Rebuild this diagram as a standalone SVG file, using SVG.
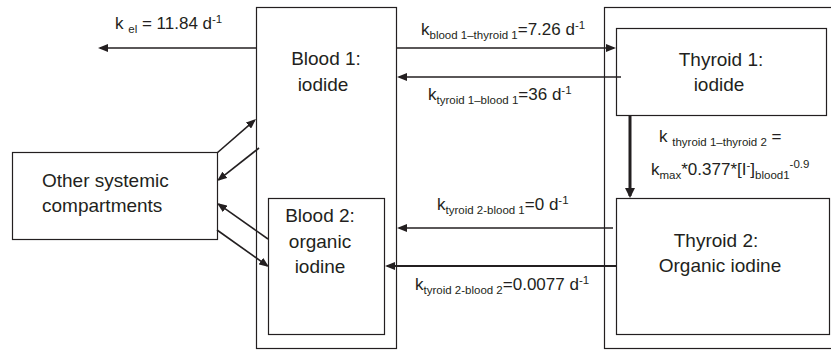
<svg xmlns="http://www.w3.org/2000/svg" width="831" height="350" viewBox="0 0 831 350">
<style>
.box{fill:#fff;stroke:#231f20;stroke-width:1.2}
.t{font-family:"Liberation Sans",Arial,sans-serif;font-size:19px;fill:#231f20}
.r{font-family:"Liberation Sans",Arial,sans-serif;font-size:17px;fill:#231f20}
.s{font-size:11.5px}
.a{stroke:#231f20;stroke-width:1.6;fill:none;marker-end:url(#ah)}
</style>
<defs>
<marker id="ah" viewBox="0 0 10 8" refX="8" refY="4" markerWidth="10" markerHeight="8" markerUnits="userSpaceOnUse" orient="auto"><path d="M0,0 L10,4 L0,8 z" fill="#231f20"/></marker>
<marker id="ahb" viewBox="0 0 10 10" refX="8" refY="5" markerWidth="10" markerHeight="10" markerUnits="userSpaceOnUse" orient="auto"><path d="M0,0 L10,5 L0,10 z" fill="#231f20"/></marker>
</defs>
<rect width="831" height="350" fill="#fff"/>
<g id="blood">
<rect class="box" x="256.5" y="7.5" width="140" height="341"/>
<text class="t" x="326" y="65" text-anchor="middle">Blood 1:</text>
<text class="t" x="323" y="91" text-anchor="middle">iodide</text>
</g>
<g id="blood2">
<rect class="box" x="268.5" y="198.5" width="116" height="136"/>
<text class="t" x="320" y="222" text-anchor="middle">Blood 2:</text>
<text class="t" x="320" y="248" text-anchor="middle">organic</text>
<text class="t" x="320" y="273" text-anchor="middle">iodine</text>
</g>
<g id="thyroid">
<rect class="box" x="604.5" y="7.5" width="240" height="341"/>
</g>
<g id="thyroid1">
<rect class="box" x="616.5" y="28.5" width="210" height="87"/>
<text class="t" x="721" y="66" text-anchor="middle">Thyroid 1:</text>
<text class="t" x="719" y="91" text-anchor="middle">iodide</text>
</g>
<g id="thyroid2">
<rect class="box" x="616.5" y="198.5" width="213" height="136"/>
<text class="t" x="716" y="247" text-anchor="middle">Thyroid 2:</text>
<text class="t" x="720" y="272" text-anchor="middle">Organic iodine</text>
</g>
<g id="other">
<rect class="box" x="12.5" y="152.5" width="205" height="87"/>
<text class="t" x="42" y="187">Other systemic</text>
<text class="t" x="42" y="212">compartments</text>
</g>
<g id="connectors">
<line class="a" x1="256" y1="48" x2="100" y2="48"/>
<line class="a" x1="397" y1="48" x2="614" y2="48"/>
<line class="a" x1="621" y1="77" x2="399" y2="77"/>
<line x1="630" y1="115" x2="630" y2="196" stroke="#231f20" stroke-width="3" marker-end="url(#ahb)"/>
<line class="a" x1="613" y1="228" x2="399" y2="228"/>
<line class="a" style="stroke-width:2" x1="616" y1="266" x2="387" y2="266"/>
<line class="a" x1="217" y1="153" x2="254.5" y2="120.3"/>
<line class="a" x1="259" y1="148" x2="218.6" y2="179.8"/>
<line class="a" x1="268" y1="239" x2="218.6" y2="204.2"/>
<line class="a" x1="217" y1="230" x2="267.4" y2="265.8"/>
</g>
<g id="labels">
<text class="r" x="115" y="29">k <tspan class="s" dy="4">el</tspan><tspan dy="-4"> = 11.84 d</tspan><tspan class="s" dy="-6">-1</tspan></text>
<text class="r" x="421" y="35">k<tspan class="s" dy="4">blood 1–thyroid 1</tspan><tspan dy="-4">=7.26 d</tspan><tspan class="s" dy="-6">-1</tspan></text>
<text class="r" x="428" y="100">k<tspan class="s" dy="4">tyroid 1–blood 1</tspan><tspan dy="-4">=36 d</tspan><tspan class="s" dy="-6">-1</tspan></text>
<text class="r" x="659" y="142">k <tspan class="s" dy="4">thyroid 1–thyroid 2</tspan><tspan dy="-4"> =</tspan></text>
<text class="r" x="651" y="175">k<tspan class="s" dy="4">max</tspan><tspan dy="-4">*0.377*[I</tspan><tspan class="s" dy="-6">-</tspan><tspan dy="6">]</tspan><tspan class="s" dy="4">blood1</tspan><tspan class="s" dy="-11">-0.9</tspan></text>
<text class="r" x="437" y="210">k<tspan class="s" dy="4">tyroid 2-blood 1</tspan><tspan dy="-4">=0 d</tspan><tspan class="s" dy="-6">-1</tspan></text>
<text class="r" x="415" y="290">k<tspan class="s" dy="4">tyroid 2-blood 2</tspan><tspan dy="-4">=0.0077 d</tspan><tspan class="s" dy="-6">-1</tspan></text>
</g>
</svg>
